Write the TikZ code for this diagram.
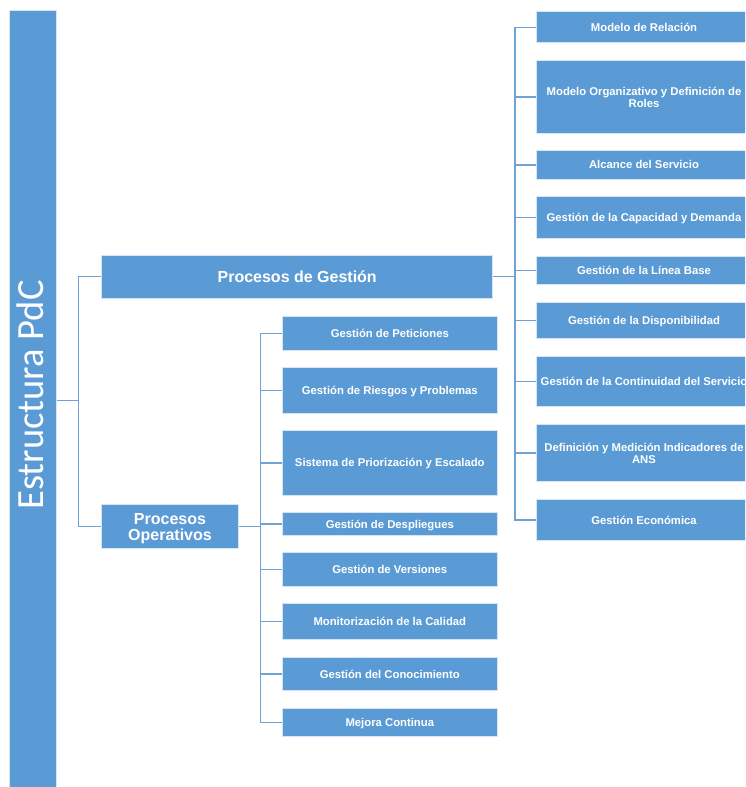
\documentclass[tikz,border=0pt]{standalone}
\usepackage{fontspec}
\setmainfont{Liberation Sans}
\newfontfamily\titlefont{Carlito}
\definecolor{boxblue}{HTML}{5B9BD5}
\definecolor{boxedge}{HTML}{D6E4F3}
\definecolor{linkblue}{HTML}{6FA3D8}
\begin{document}
\begin{tikzpicture}[x=1pt,y=-1pt,
  box/.style={fill=boxblue, draw=boxedge, line width=0.6pt, inner sep=0pt,
    text=white, align=center, font=\bfseries\fontsize{11.3}{12}\selectfont},
  oneline/.style={text height=8.1pt, text depth=0pt},
  twoline/.style={text height=20.1pt, text depth=0pt},
  bigtext/.style={font=\bfseries\fontsize{16}{15.5}\selectfont},
  rightbox/.style={box, minimum width=214.6pt},
  midbox/.style={box, minimum width=215pt},
  conn/.style={draw=linkblue, line width=1.4pt},
]
\useasboundingbox (0,0) rectangle (745,787);
\clip (0,0) rectangle (745,787);

% root bar
\node[box, minimum width=47.4pt, minimum height=780pt] (root) at (33,400.5) {};
\node[text=white, inner sep=0pt, rotate=90,
  font=\titlefont\fontsize{38.5}{40}\selectfont] (rootlabel) at (30.5,395) {Estructura PdC};

% second level
\node[box, bigtext, text height=11.5pt, text depth=0pt, minimum width=391pt, minimum height=43.3pt]
  (gestion) at (297.2,276.7) {Procesos de Gestión};
\node[box, bigtext, text height=27pt, text depth=0pt, minimum width=136.6pt, minimum height=44.4pt]
  (operativos) at (170,526.5) {Procesos\\Operativos};

% management processes
\node[rightbox, oneline, minimum height=31pt]   (r1) at (644,27.2)  {Modelo de Relación};
\node[rightbox, twoline, minimum height=72.6pt] (r2) at (644,97)    {Modelo Organizativo y Definición de\\Roles};
\node[rightbox, oneline, minimum height=28.3pt] (r3) at (644,164.9) {Alcance del Servicio};
\node[rightbox, oneline, minimum height=41.3pt] (r4) at (644,217.3) {Gestión de la Capacidad y Demanda};
\node[rightbox, oneline, minimum height=28.3pt] (r5) at (644,270.2) {Gestión de la Línea Base};
\node[rightbox, oneline, minimum height=35.6pt] (r6) at (644,320.5) {Gestión de la Disponibilidad};
\node[rightbox, oneline, minimum height=50.7pt] (r7) at (644,381.3) {Gestión de la Continuidad del Servicio};
\node[rightbox, twoline, minimum height=57.4pt] (r8) at (644,453)   {Definición y Medición Indicadores de\\ANS};
\node[rightbox, oneline, minimum height=41.4pt] (r9) at (644,520)   {Gestión Económica};

% operational processes
\node[midbox, oneline, minimum height=34.7pt] (m1) at (389.8,333.3) {Gestión de Peticiones};
\node[midbox, oneline, minimum height=45.6pt] (m2) at (389.8,390.5) {Gestión de Riesgos y Problemas};
\node[midbox, oneline, minimum height=64.3pt] (m3) at (389.8,462.8) {Sistema de Priorización y Escalado};
\node[midbox, oneline, minimum height=22.6pt] (m4) at (389.8,524)   {Gestión de Despliegues};
\node[midbox, oneline, minimum height=33.3pt] (m5) at (389.8,569.3) {Gestión de Versiones};
\node[midbox, oneline, minimum height=36pt]   (m6) at (389.8,621.3) {Monitorización de la Calidad};
\node[midbox, oneline, minimum height=33.4pt] (m7) at (389.8,674)   {Gestión del Conocimiento};
\node[midbox, oneline, minimum height=28.4pt] (m8) at (389.8,722.5) {Mejora Continua};

% connectors
\coordinate (rootjoint) at (78.3,400.5);
\draw[conn] (root.east) -- (rootjoint);
\draw[conn] (gestion.west) -| (rootjoint) |- (operativos.west);

\coordinate (gbus) at (515,276.7);
\draw[conn] (gestion.east) -- (gbus);
\foreach \i in {1,...,9} \draw[conn] (gbus) |- (r\i.west);

\coordinate (obus) at (260.5,526.5);
\draw[conn] (operativos.east) -- (obus);
\foreach \i in {1,...,8} \draw[conn] (obus) |- (m\i.west);
\end{tikzpicture}
\end{document}
